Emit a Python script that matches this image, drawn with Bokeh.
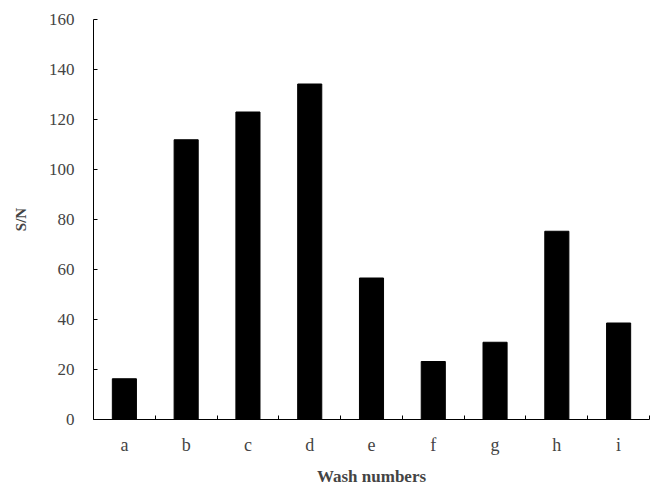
from bokeh.plotting import figure
from bokeh.models import Range1d, FixedTicker
from bokeh.embed import file_html
from bokeh.resources import INLINE

categories = ["a", "b", "c", "d", "e", "f", "g", "h", "i"]
sn_values = [16.3, 111.9, 123.0, 134.2, 56.6, 23.2, 30.9, 75.3, 38.6]
y_ticks = [0, 20, 40, 60, 80, 100, 120, 140, 160]

xs = [i + 0.5 for i in range(len(categories))]

p = figure(width=652, height=489, output_backend="svg", toolbar_location=None,
           x_range=Range1d(0, len(categories)), y_range=Range1d(0, 160),
           min_border_left=93, min_border_right=3, min_border_top=19, min_border_bottom=70)
p.outline_line_color = None
p.xgrid.visible = False
p.ygrid.visible = False

p.vbar(x=xs, top=sn_values, width=0.39, bottom=0, fill_color="black", line_color="black")

FONT = "Liberation Serif"

xa = p.xaxis[0]
xa.ticker = FixedTicker(ticks=xs, minor_ticks=list(range(len(categories) + 1)))
xa.major_label_overrides = {x: c for x, c in zip(xs, categories)}
xa.major_tick_in = 0
xa.major_tick_out = 0
xa.minor_tick_in = 4
xa.minor_tick_out = 0
xa.major_label_text_font = FONT
xa.major_label_text_font_size = "18px"
xa.major_label_standoff = 15
xa.axis_label = "Wash numbers"
xa.axis_label_text_font = FONT
xa.axis_label_text_font_size = "17px"
xa.axis_label_text_font_style = "bold"
xa.axis_label_standoff = 9
xa.axis_line_color = "black"

ya = p.yaxis[0]
ya.ticker = FixedTicker(ticks=y_ticks, minor_ticks=[])
ya.major_tick_in = 4
ya.major_tick_out = 0
ya.major_label_text_font = FONT
ya.major_label_text_font_size = "17px"
ya.major_label_standoff = 19
ya.axis_label = "S/N"
ya.axis_label_text_font = FONT
ya.axis_label_text_font_size = "15px"
ya.axis_label_text_font_style = "bold"
ya.axis_label_standoff = 17
ya.axis_line_color = "black"

open("out.html", "w").write(file_html(p, INLINE))
